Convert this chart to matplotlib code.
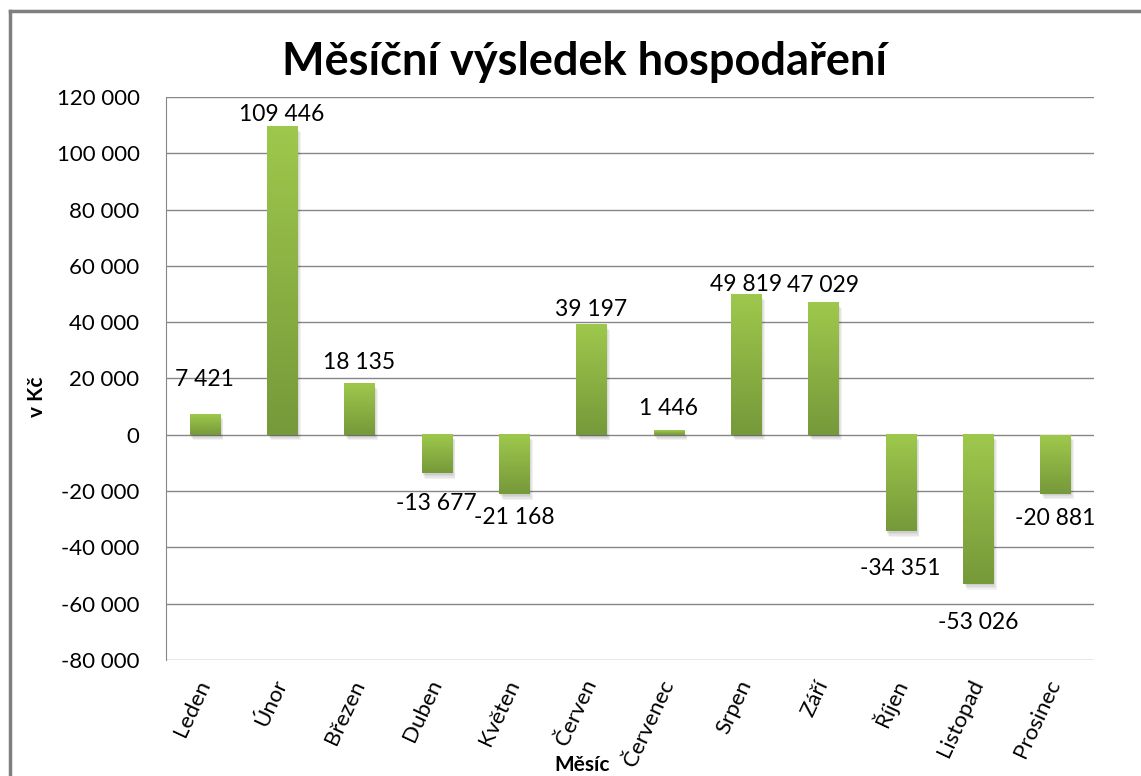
import numpy as np
import matplotlib
matplotlib.use("Agg")
import matplotlib.pyplot as plt
from matplotlib.colors import LinearSegmentedColormap
from matplotlib.patches import Rectangle
from matplotlib.lines import Line2D

plt.rcParams['font.family'] = ['Lato', 'DejaVu Sans']

months = ["Leden", "Únor", "Březen", "Duben", "Květen", "Červen",
          "Červenec", "Srpen", "Září", "Říjen", "Listopad", "Prosinec"]
results = [7421, 109446, 18135, -13677, -21168, 39197,
           1446, 49819, 47029, -34351, -53026, -20881]
y_ticks = list(range(-80000, 120001, 20000))

# distance of label centre from bar end (points)
label_pad = [25, 8.5, 15, 22, 17, 11, 16, 7, 12, 27, 28, 18]


def fmt(v):
    return f"{v:,}".replace(",", " ")


fig = plt.figure(figsize=(11.41, 7.76), dpi=100)
ax = fig.add_axes([166 / 1141, 1 - 660 / 776, (1094 - 166) / 1141, (660 - 97) / 776])

x = np.arange(len(months))
width = 0.39
bars = ax.bar(x, results, width, color="none", edgecolor="none", zorder=3)

cmap = LinearSegmentedColormap.from_list("grn", ["#9ec84c", "#76993a"])
grad = np.linspace(0, 1, 100).reshape(-1, 1)

for b, v in zip(bars, results):
    x0 = b.get_x()
    lo, hi = min(0, v), max(0, v)
    # soft shadow
    for k in range(1, 5):
        ax.add_patch(Rectangle((x0 + 0.012 * k, lo - 500 * k), width, hi - lo,
                               facecolor="black", alpha=0.05, edgecolor="none", zorder=2))
    ax.imshow(grad, cmap=cmap, aspect="auto", origin="upper",
              extent=(x0, x0 + width, lo, hi), zorder=3)

for i, (v, p) in enumerate(zip(results, label_pad)):
    ax.annotate(fmt(v), (x[i], v), xytext=(0, p if v > 0 else -p),
                textcoords="offset points", ha="center", va="center",
                fontsize=16.5)

ax.set_xlim(-0.5, len(months) - 0.5)
ax.set_ylim(-80000, 120000)
ax.set_yticks(y_ticks)
ax.set_yticklabels([fmt(t) for t in y_ticks], fontsize=16)
ax.set_xticks(x)
ax.set_xticklabels(months, rotation=65, ha="right", va="center",
                   rotation_mode="anchor", fontsize=16)
ax.tick_params(axis="y", length=0, pad=19)
ax.tick_params(axis="x", length=0, pad=15)
ax.grid(axis="y", color="#868686", linewidth=1, zorder=0)
ax.set_axisbelow(True)
for s in ["top", "right", "bottom"]:
    ax.spines[s].set_visible(False)
ax.spines["left"].set_color("#868686")

fig.text(585 / 1141, 1 - 62 / 776, "Měsíční výsledek hospodaření",
         ha="center", va="center", fontsize=32.5, fontweight="bold")
fig.text(37 / 1141, 1 - 397 / 776, "v Kč", rotation=90,
         ha="center", va="center", fontsize=15, fontweight="bold")
fig.text(582 / 1141, 1 - 765 / 776, "Měsíc", ha="center", va="center",
         fontsize=15, fontweight="bold")

# chart frame
fig.add_artist(Line2D([9.5 / 1141, 9.5 / 1141], [0, 1 - 11 / 776],
                      color="#7f7f7f", linewidth=2.5))
fig.add_artist(Line2D([9.5 / 1141, 1], [1 - 11 / 776, 1 - 11 / 776],
                      color="#7f7f7f", linewidth=2.5))

fig.savefig("out.png", dpi=100)
